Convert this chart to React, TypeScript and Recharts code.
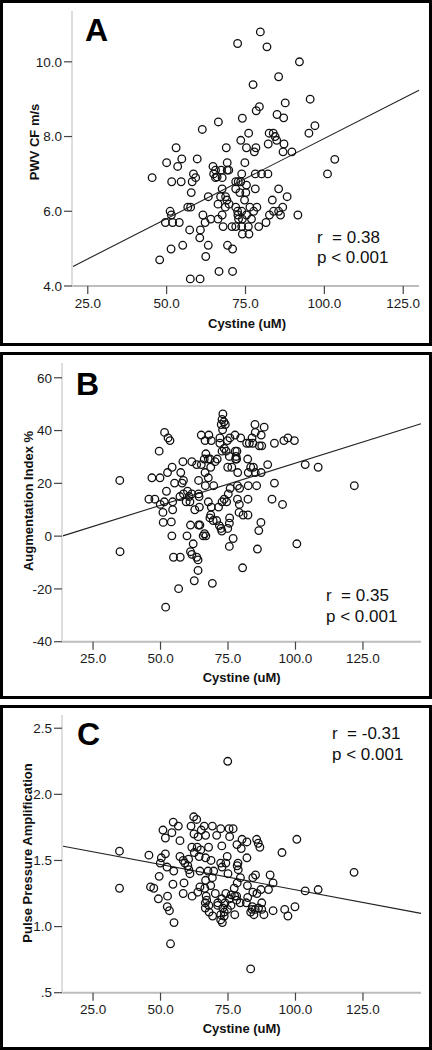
import React from "react";
import { ReferenceLine, Scatter, ScatterChart, XAxis, YAxis } from "recharts";

const FONT = "'Liberation Sans', Arial, Helvetica, sans-serif";

// shared x axis (Cystine, uM)
const cystineTicks = [25, 50, 75, 100, 125];

// A: PWV CF m/s vs cystine  [cystine, pwv]
const pwvTicks = [4, 6, 8, 10];
const pwvPoints = [
  [79.7, 10.8], [72.5, 10.49], [81.8, 10.4], [92.1, 10.0], [85.5, 9.6], [77.4, 9.39], [95.5, 9.0],
  [87.6, 8.9], [79.4, 8.8], [78.4, 8.69], [85.0, 8.59], [87.1, 8.5], [74.0, 8.49], [66.4, 8.39],
  [61.3, 8.19], [97.0, 8.29], [95.1, 8.09], [76.0, 8.09], [82.5, 8.09], [83.8, 8.09], [84.4, 8.0],
  [84.9, 7.9], [73.5, 7.9], [82.2, 7.8], [87.2, 7.8], [75.3, 7.7], [78.3, 7.7], [68.9, 7.7],
  [53.0, 7.7], [77.8, 7.59], [86.9, 7.59], [89.7, 7.59], [54.8, 7.4], [59.7, 7.4], [103.3, 7.39],
  [50.0, 7.3], [53.5, 7.2], [69.2, 7.3], [74.8, 7.3], [64.7, 7.2], [65.5, 7.1], [67.3, 7.1],
  [69.2, 7.1], [69.7, 7.1], [45.4, 6.9], [51.6, 6.79], [54.6, 6.79], [58.5, 7.0], [59.2, 6.9],
  [58.1, 6.79], [64.9, 7.0], [66.0, 6.92], [65.5, 6.9], [67.6, 6.9], [73.8, 7.0], [78.1, 7.0],
  [80.1, 7.0], [82.1, 7.0], [101.0, 7.0], [71.9, 6.79], [72.7, 6.79], [73.5, 6.79], [57.8, 6.5],
  [67.6, 6.6], [71.9, 6.6], [75.3, 6.7], [73.2, 6.5], [75.1, 6.5], [78.1, 6.6], [85.5, 6.6],
  [88.2, 6.39], [63.2, 6.39], [67.1, 6.39], [68.7, 6.39], [69.1, 6.3], [74.7, 6.3], [83.5, 6.3],
  [66.3, 6.19], [69.8, 6.19], [56.7, 6.11], [57.6, 6.11], [68.6, 6.11], [71.9, 6.11], [76.4, 6.11],
  [78.6, 6.11], [86.8, 6.11], [51.1, 6.0], [61.5, 5.9], [72.5, 6.0], [73.8, 6.0], [77.6, 6.0],
  [83.9, 6.0], [85.5, 6.0], [51.5, 5.9], [67.6, 5.9], [72.6, 5.9], [75.3, 5.9], [82.6, 5.9],
  [86.1, 5.9], [91.6, 5.9], [49.6, 5.7], [51.9, 5.7], [54.0, 5.7], [62.2, 5.7], [64.0, 5.79],
  [66.3, 5.79], [72.8, 5.79], [74.0, 5.79], [76.9, 5.79], [81.5, 5.7], [67.9, 5.59], [70.7, 5.59],
  [71.9, 5.59], [73.8, 5.59], [75.9, 5.59], [79.2, 5.59], [57.3, 5.5], [60.7, 5.5], [74.0, 5.39],
  [76.1, 5.39], [60.5, 5.29], [55.1, 5.09], [51.4, 4.99], [63.2, 5.09], [69.3, 5.09], [70.9, 4.99],
  [62.4, 4.79], [47.8, 4.7], [66.6, 4.39], [70.9, 4.39], [57.5, 4.19], [60.6, 4.19],
];
const pwvFit = [[20, 4.51], [130, 9.24]];

// B: Augmentation Index % vs cystine
const aixTicks = [-40, -20, 0, 20, 40, 60];
const aixPoints = [
  [73.1, 46.3], [72.8, 44.2], [73.5, 43.3], [72.5, 42.3], [74.0, 42.3], [85.0, 42.3], [88.4, 41.3],
  [51.5, 39.3], [73.0, 40.3], [85.1, 39.3], [65.1, 38.3], [67.9, 38.3], [77.6, 38.3], [87.3, 38.3],
  [72.0, 37.2], [75.7, 37.2], [79.7, 37.2], [83.9, 37.2], [97.2, 37.2], [52.8, 37.2], [53.5, 36.2],
  [66.5, 36.2], [68.8, 36.2], [74.8, 36.2], [95.7, 36.2], [99.6, 36.2], [72.0, 35.2], [81.9, 35.2],
  [82.9, 35.2], [84.2, 35.2], [86.6, 34.2], [87.5, 34.2], [92.2, 35.2], [73.6, 33.2], [72.8, 32.2],
  [74.3, 32.2], [77.7, 32.2], [78.3, 32.2], [49.5, 32.2], [66.8, 31.2], [75.5, 30.2], [78.0, 30.2],
  [82.3, 29.2], [61.6, 28.2], [58.3, 28.2], [66.2, 29.2], [67.7, 29.2], [68.4, 29.2], [71.0, 29.2],
  [70.2, 28.2], [77.8, 29.2], [78.2, 29.2], [63.4, 27.1], [65.1, 27.1], [89.7, 27.1], [103.6, 27.1],
  [108.4, 26.1], [54.3, 26.1], [68.6, 26.1], [74.9, 26.1], [76.4, 26.1], [83.4, 26.1], [84.4, 26.1],
  [52.6, 24.1], [57.5, 24.1], [66.5, 24.1], [78.6, 24.1], [82.5, 24.1], [85.1, 24.1], [87.3, 24.1],
  [46.8, 22.1], [49.8, 22.1], [67.7, 22.1], [34.9, 21.1], [58.5, 21.1], [64.1, 21.1], [55.2, 20.1],
  [58.0, 20.1], [92.2, 20.1], [121.8, 19.1], [69.7, 19.1], [66.6, 19.1], [78.5, 19.1], [82.5, 19.1],
  [85.6, 19.1], [79.3, 18.1], [75.8, 18.1], [60.0, 17.0], [52.2, 17.0], [61.6, 16.0], [58.5, 16.0],
  [64.1, 16.0], [75.1, 16.0], [57.2, 15.0], [64.3, 15.0], [60.6, 15.0], [45.7, 14.0], [47.9, 14.0],
  [82.4, 14.0], [91.3, 14.0], [73.6, 14.0], [78.5, 14.0], [51.4, 13.0], [54.5, 13.0], [59.5, 13.0],
  [60.9, 13.0], [67.7, 13.0], [72.8, 13.0], [74.5, 13.0], [95.2, 12.0], [49.9, 12.0], [79.2, 12.0],
  [64.4, 11.0], [68.8, 11.0], [71.5, 11.0], [50.9, 9.0], [54.5, 10.0], [62.7, 10.0], [79.1, 9.0],
  [82.4, 8.0], [80.6, 8.0], [68.6, 8.0], [68.3, 6.9], [75.6, 6.9], [69.5, 5.9], [70.8, 5.9],
  [51.0, 5.2], [54.0, 5.4], [75.5, 4.9], [87.2, 5.2], [61.1, 4.2], [64.1, 4.2], [64.6, 4.2],
  [71.8, 4.0], [72.4, 2.9], [74.9, 2.9], [86.4, 2.1], [72.7, 1.9], [66.3, 0.9], [65.8, 0.1],
  [66.8, 0.1], [54.2, 0.1], [59.8, 0.1], [76.9, -0.9], [62.1, -2.9], [100.5, -2.9], [35.0, -5.9],
  [61.1, -5.9], [85.9, -4.9], [75.5, -3.9], [63.4, -8.0], [54.8, -8.0], [57.3, -8.0], [61.6, -6.9],
  [63.9, -9.0], [80.4, -12.0], [63.9, -13.0], [62.5, -16.9], [69.2, -17.9], [56.7, -19.9],
  [51.9, -26.9],
];
const aixFit = [[13.5, 0], [146.5, 42.55]];

// C: Pulse Pressure Amplification vs cystine
const ppaTicks = [0.5, 1, 1.5, 2, 2.5];
const ppaPoints = [
  [74.9, 2.25], [62.3, 1.83], [63.4, 1.81], [54.7, 1.79], [56.6, 1.76], [66.2, 1.76], [69.2, 1.76],
  [61.3, 1.76], [50.9, 1.73], [54.2, 1.71], [72.3, 1.74], [75.4, 1.74], [76.9, 1.74], [65.1, 1.73],
  [62.4, 1.7], [66.7, 1.69], [70.8, 1.69], [75.6, 1.68], [51.8, 1.67], [63.9, 1.68], [57.2, 1.65],
  [80.2, 1.66], [82.0, 1.64], [85.6, 1.66], [86.2, 1.63], [86.8, 1.6], [100.5, 1.66], [72.7, 1.61],
  [78.3, 1.62], [61.6, 1.6], [63.6, 1.6], [64.9, 1.58], [67.8, 1.6], [79.9, 1.59], [34.8, 1.57],
  [95.0, 1.56], [62.5, 1.56], [45.7, 1.54], [51.8, 1.55], [57.2, 1.53], [64.3, 1.53], [60.4, 1.51],
  [58.4, 1.5], [66.7, 1.52], [68.7, 1.5], [74.7, 1.53], [82.0, 1.52], [50.3, 1.52], [49.9, 1.48],
  [59.0, 1.48], [60.1, 1.46], [60.5, 1.43], [60.9, 1.4], [72.3, 1.48], [74.2, 1.48], [78.7, 1.48],
  [78.4, 1.46], [72.8, 1.45], [52.4, 1.45], [78.8, 1.43], [67.6, 1.42], [69.7, 1.42], [64.6, 1.42],
  [54.9, 1.42], [75.0, 1.4], [121.7, 1.41], [85.2, 1.39], [90.6, 1.39], [49.5, 1.38], [69.2, 1.37],
  [79.6, 1.37], [84.2, 1.37], [66.7, 1.35], [91.7, 1.33], [54.6, 1.32], [58.7, 1.33], [78.4, 1.33],
  [82.2, 1.31], [34.8, 1.29], [46.3, 1.3], [47.5, 1.29], [64.6, 1.3], [66.4, 1.29], [68.6, 1.31],
  [77.3, 1.29], [87.2, 1.28], [90.0, 1.28], [103.6, 1.27], [108.4, 1.28], [63.8, 1.26], [58.4, 1.25],
  [84.2, 1.26], [85.7, 1.25], [61.7, 1.23], [52.6, 1.23], [66.9, 1.23], [70.3, 1.25], [74.2, 1.25],
  [76.2, 1.24], [77.5, 1.23], [78.2, 1.23], [82.3, 1.22], [49.2, 1.21], [72.7, 1.21], [75.5, 1.21],
  [78.2, 1.2], [67.1, 1.2], [66.6, 1.18], [71.2, 1.18], [73.9, 1.18], [79.5, 1.18], [81.8, 1.18],
  [87.5, 1.18], [67.9, 1.16], [71.2, 1.16], [76.1, 1.16], [84.0, 1.15], [52.5, 1.15], [86.3, 1.14],
  [99.8, 1.15], [96.0, 1.13], [66.6, 1.14], [73.1, 1.14], [74.8, 1.13], [83.9, 1.13], [85.1, 1.13],
  [53.3, 1.12], [91.7, 1.12], [87.5, 1.13], [83.4, 1.11], [68.0, 1.11], [73.6, 1.11], [72.3, 1.09],
  [77.5, 1.09], [84.6, 1.09], [88.3, 1.09], [97.2, 1.08], [69.3, 1.08], [73.6, 1.08], [72.3, 1.05],
  [72.9, 1.03], [55.0, 1.03], [53.7, 0.87], [83.4, 0.68],
];
const ppaFit = [[13.5, 1.61], [146.5, 1.1]];

const toXY = (pts: number[][]) => pts.map(([x, y]) => ({ x, y }));

const Ring = (props: any) => (
  <circle cx={props.cx} cy={props.cy} r={3.8} fill="none" stroke="#111" strokeWidth={1.3} />
);

const tickStyle = { fill: "#1a1a1a", fontSize: 13.5, fontFamily: FONT };

type PanelProps = {
  top: number;
  height: number;
  plotTop: number;
  plotBottom: number;
  plotLeft: number;
  plotRight: number;
  xDomain: number[];
  yDomain: number[];
  yTicks: number[];
  yFormat: (v: number) => string;
  points: number[][];
  fit: number[][];
};

function Panel(p: PanelProps) {
  return (
    <>
      <div
        style={{
          position: "absolute",
          left: 0,
          top: p.top,
          width: 432,
          height: p.height,
          border: "3px solid #000",
          boxSizing: "border-box",
        }}
      />
      <div style={{ position: "absolute", left: 0, top: p.top }}>
        <ScatterChart
          width={432}
          height={p.height}
          margin={{ top: p.plotTop, right: 432 - p.plotRight, left: 0, bottom: p.height - p.plotBottom - 30 }}
        >
          <XAxis
            type="number"
            dataKey="x"
            domain={p.xDomain}
            ticks={cystineTicks}
            tickFormatter={(v: number) => v.toFixed(1)}
            height={30}
            tick={tickStyle}
            tickSize={8}
            tickMargin={4}
            tickLine={{ stroke: "#444", strokeWidth: 1.2 }}
            axisLine={{ stroke: "#bdbdbd", strokeWidth: 2 }}
            allowDataOverflow
          />
          <YAxis
            type="number"
            dataKey="y"
            domain={p.yDomain}
            ticks={p.yTicks}
            tickFormatter={p.yFormat}
            width={p.plotLeft}
            tick={tickStyle}
            tickSize={8}
            tickMargin={2}
            tickLine={{ stroke: "#444", strokeWidth: 1.2 }}
            axisLine={{ stroke: "#dedede", strokeWidth: 2 }}
            allowDataOverflow
          />
          <ReferenceLine
            segment={p.fit.map(([x, y]) => ({ x, y }))}
            stroke="#222"
            strokeWidth={1.1}
            ifOverflow="visible"
          />
          <Scatter data={toXY(p.points)} shape={Ring} isAnimationActive={false} />
        </ScatterChart>
      </div>
    </>
  );
}

const abs = (left: number, top: number, extra: React.CSSProperties = {}): React.CSSProperties => ({
  position: "absolute",
  left,
  top,
  fontFamily: FONT,
  color: "#111",
  whiteSpace: "pre",
  ...extra,
});

const Letter = ({ left, top, text }: { left: number; top: number; text: string }) => (
  <div style={abs(left, top, { fontSize: 32, fontWeight: 700, lineHeight: "32px", color: "#000" })}>{text}</div>
);

const Stats = ({ left, top, r, gap }: { left: number; top: number; r: string; gap: number }) => (
  <div style={abs(left, top, { fontSize: 17, lineHeight: `${gap}px` })}>
    {`r  = ${r}`}
    <br />
    {"p < 0.001"}
  </div>
);

const YTitle = ({ cx, cy, text }: { cx: number; cy: number; text: string }) => (
  <div
    style={abs(cx, cy, {
      fontSize: 13,
      fontWeight: 700,
      lineHeight: "15px",
      transform: "translate(-50%, -50%) rotate(-90deg)",
    })}
  >
    {text}
  </div>
);

const XTitle = ({ cx, cy }: { cx: number; cy: number }) => (
  <div style={abs(cx, cy, { fontSize: 13, fontWeight: 700, lineHeight: "15px", transform: "translate(-50%, -50%)" })}>
    Cystine (uM)
  </div>
);

export default function App() {
  return (
    <div style={{ position: "absolute", left: 0, top: 0, width: 432, height: 1050, background: "#fff" }}>
      <Panel
        top={0}
        height={346}
        plotTop={11}
        plotBottom={286}
        plotLeft={72}
        plotRight={419}
        xDomain={[20, 130]}
        yDomain={[4, 11.36]}
        yTicks={pwvTicks}
        yFormat={(v) => v.toFixed(1)}
        points={pwvPoints}
        fit={pwvFit}
      />
      <Panel
        top={352}
        height={347}
        plotTop={11}
        plotBottom={289.7}
        plotLeft={62}
        plotRight={421}
        xDomain={[13.5, 146.5]}
        yDomain={[-40, 65.6]}
        yTicks={aixTicks}
        yFormat={(v) => String(v)}
        points={aixPoints}
        fit={aixFit}
      />
      <Panel
        top={705}
        height={345}
        plotTop={10}
        plotBottom={287.7}
        plotLeft={62}
        plotRight={421}
        xDomain={[13.5, 146.5]}
        yDomain={[0.5, 2.6]}
        yTicks={ppaTicks}
        yFormat={(v) => (v === 0.5 ? ".5" : v.toFixed(1))}
        points={ppaPoints}
        fit={ppaFit}
      />

      <Letter left={85} top={14} text="A" />
      <Letter left={76} top={368} text="B" />
      <Letter left={77} top={718} text="C" />

      <Stats left={317} top={227.5} r="0.38" gap={20} />
      <Stats left={326} top={584.5} r="0.35" gap={21} />
      <Stats left={332} top={722.5} r="-0.31" gap={21} />

      <YTitle cx={33.5} cy={142} text="PWV CF m/s" />
      <YTitle cx={28} cy={501} text="Augmentation Index %" />
      <YTitle cx={27} cy={853} text="Pulse Pressure Amplification" />

      <XTitle cx={247} cy={323} />
      <XTitle cx={241.7} cy={676.7} />
      <XTitle cx={241.7} cy={1027.7} />
    </div>
  );
}
